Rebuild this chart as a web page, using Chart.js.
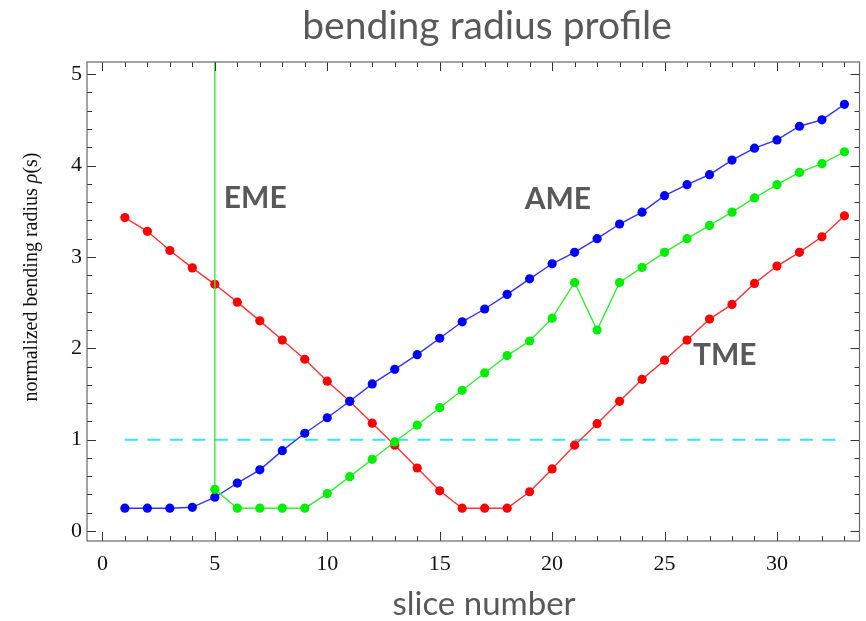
<!DOCTYPE html>
<html>
<head>
<meta charset="utf-8">
<script src="https://cdn.jsdelivr.net/npm/chart.js@4.4.1/dist/chart.umd.min.js"></script>
<style>
  html, body { margin: 0; padding: 0; background: #fff; }
  canvas { display: block; }
</style>
</head>
<body>
<canvas id="chart" width="866" height="621"></canvas>
<script>
// slice index along the beam
const slices = [1, 2, 3, 4, 5, 6, 7, 8, 9, 10, 11, 12, 13, 14, 15, 16, 17,
  18, 19, 20, 21, 22, 23, 24, 25, 26, 27, 28, 29, 30, 31, 32, 33]

// normalized bending radius per slice
const tme = [3.43, 3.28, 3.07, 2.88, 2.70, 2.505, 2.30, 2.09, 1.88, 1.64, 1.42, 1.18,
  0.94, 0.69, 0.44, 0.25, 0.25, 0.25, 0.43, 0.68, 0.94, 1.175, 1.42, 1.66, 1.87,
  2.09, 2.32, 2.48, 2.71, 2.90, 3.05, 3.22, 3.45]
const ame = [0.25, 0.25, 0.25, 0.26, 0.37, 0.525, 0.67, 0.88, 1.07, 1.24, 1.42, 1.61,
  1.77, 1.93, 2.11, 2.29, 2.43, 2.59, 2.76, 2.925, 3.05, 3.20, 3.36, 3.49, 3.67,
  3.79, 3.90, 4.06, 4.19, 4.28, 4.43, 4.50, 4.67]
const eme = [null, null, null, null, 0.456, 0.25, 0.25, 0.25, 0.25, 0.41, 0.595, 0.785,
  0.975, 1.16, 1.35, 1.54, 1.73, 1.92, 2.08, 2.33, 2.72, 2.20, 2.72, 2.885, 3.05,
  3.20, 3.345, 3.49, 3.645, 3.79, 3.925, 4.02, 4.15]

// EME radius diverges at this slice (drawn as a vertical line off the top)
const emePole = 5
// reference level rho = 1
const unitLevel = 1

const xMajorTicks = [0, 5, 10, 15, 20, 25, 30]
const yMajorTicks = [0, 1, 2, 3, 4, 5]

const X_MIN = -0.685, X_MAX = 33.67
const Y_MIN = -0.109, Y_MAX = 5.133

const toPoints = (vals) => slices
  .map((s, i) => ({ x: s, y: vals[i] }))
  .filter(p => p.y !== null)

const emeData = [{ x: emePole, y: Y_MAX + 1 }, ...toPoints(eme)]

const GRAY = '#595959'

const frame = {
  id: 'frame',
  afterDatasetsDraw (chart) {
    const { ctx, chartArea: a, scales: { x, y } } = chart
    ctx.save()

    // inward ticks on all four sides
    ctx.strokeStyle = '#333'
    ctx.lineWidth = 1
    ctx.beginPath()
    for (let v = 0; v <= 33; v++) {
      const px = Math.round(x.getPixelForValue(v)) + 0.5
      const len = xMajorTicks.includes(v) ? 9 : 5
      ctx.moveTo(px, a.bottom); ctx.lineTo(px, a.bottom - len)
      ctx.moveTo(px, a.top); ctx.lineTo(px, a.top + len)
    }
    for (let i = 0; i <= 25; i++) {
      const py = Math.round(y.getPixelForValue(i / 5)) + 0.5
      const len = i % 5 === 0 ? 9 : 5
      ctx.moveTo(a.left, py); ctx.lineTo(a.left + len, py)
      ctx.moveTo(a.right, py); ctx.lineTo(a.right - len, py)
    }
    ctx.stroke()

    ctx.strokeStyle = '#666'
    ctx.lineWidth = 1.2
    ctx.strokeRect(a.left, a.top, a.right - a.left, a.bottom - a.top)

    // tick labels
    ctx.fillStyle = '#111'
    ctx.font = '22px "Liberation Serif", "DejaVu Serif", serif'
    ctx.textAlign = 'center'
    ctx.textBaseline = 'middle'
    xMajorTicks.forEach(v => ctx.fillText(String(v), x.getPixelForValue(v), a.bottom + 23))
    ctx.textAlign = 'right'
    yMajorTicks.forEach(v => ctx.fillText(String(v), a.left - 5, y.getPixelForValue(v)))

    // y axis title, rho in italics
    ctx.save()
    ctx.translate(32, 277)
    ctx.rotate(-Math.PI / 2)
    ctx.textBaseline = 'middle'
    ctx.textAlign = 'left'
    const parts = [
      ['normalized bending radius ', '20px "Liberation Serif", serif'],
      ['\u03c1', 'italic 20px "Liberation Serif", serif'],
      ['(s)', '20px "Liberation Serif", serif']
    ]
    let total = 0
    parts.forEach(([t, f]) => { ctx.font = f; total += ctx.measureText(t).width })
    let cx = -total / 2
    parts.forEach(([t, f]) => {
      ctx.font = f
      ctx.fillText(t, cx, 0)
      cx += ctx.measureText(t).width
    })
    ctx.restore()

    // chart title and x axis title
    ctx.fillStyle = GRAY
    ctx.textAlign = 'center'
    ctx.textBaseline = 'alphabetic'
    ctx.font = '39px Lato, "Open Sans", sans-serif'
    ctx.fillText('bending radius profile', 487, 39)
    ctx.font = '33px Lato, "Open Sans", sans-serif'
    ctx.fillText('slice number', 484, 615)

    // curve names
    ctx.font = 'bold 30px Lato, "Open Sans", sans-serif'
    ctx.textAlign = 'left'
    const names = [['EME', 5.40, 3.54], ['AME', 18.78, 3.52], ['TME', 26.26, 1.82]]
    names.forEach(([t, vx, vy]) => ctx.fillText(t, x.getPixelForValue(vx), y.getPixelForValue(vy)))

    ctx.restore()
  }
}

const line = (data, color, extra = {}) => ({
  data,
  borderColor: color,
  backgroundColor: color,
  borderWidth: 1.4,
  pointRadius: 4.6,
  pointBorderWidth: 0,
  pointHoverRadius: 4.6,
  tension: 0,
  ...extra
})

new Chart(document.getElementById('chart'), {
  type: 'line',
  data: {
    datasets: [
      line(emeData, '#00ee00', {
        borderColor: '#33ee33',
        pointRadius: (c) => (c.dataIndex === 0 ? 0 : 4.6)
      }),
      line(toPoints(ame), '#0000ff', { borderColor: '#3333ff' }),
      line(toPoints(tme), '#ff0000', { borderColor: '#ff3333' }),
      line([{ x: slices[0], y: unitLevel }, { x: slices[slices.length - 1], y: unitLevel }], '#00f0ff', {
        borderColor: '#2ee8f5',
        borderWidth: 2,
        borderDash: [13, 9.5],
        pointRadius: 0
      })
    ]
  },
  options: {
    responsive: false,
    animation: false,
    events: [],
    layout: { padding: { left: 87, right: 6.5, top: 62, bottom: 80 } },
    plugins: { legend: { display: false }, tooltip: { enabled: false } },
    scales: {
      x: { type: 'linear', min: X_MIN, max: X_MAX, display: false },
      y: { type: 'linear', min: Y_MIN, max: Y_MAX, display: false }
    }
  },
  plugins: [frame]
})
</script>
</body>
</html>
